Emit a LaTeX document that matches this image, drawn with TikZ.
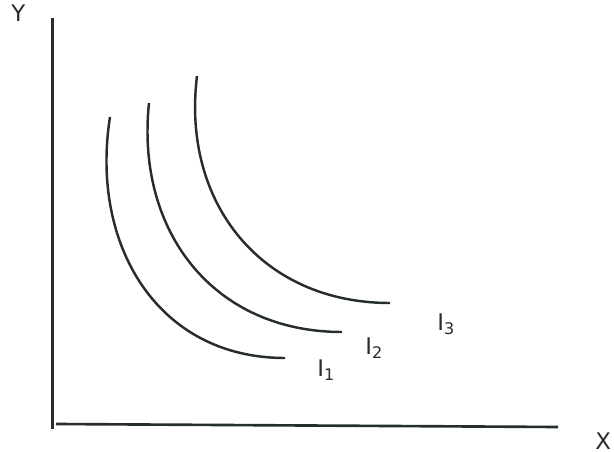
\documentclass[tikz,border=0pt]{standalone}
\usepackage{fontspec}
\setmainfont{DejaVu Sans}

\definecolor{ink}{RGB}{38,46,44}

\begin{document}
\begin{tikzpicture}[x=0.02cm,y=-0.02cm,
    axis/.style={ink,line width=1.5pt},
    curve/.style={ink,line width=1.4pt},
    lab/.style={text=ink,anchor=base west,inner sep=0pt,font=\fontsize{13}{15}\selectfont}]

\useasboundingbox (0,0) rectangle (614,452);

% Axes
\coordinate (Ytop) at (52.5,18);
\coordinate (Ybot) at (52.5,429);
\coordinate (Xbeg) at (56,424);
\coordinate (Xend) at (558,427);
\draw[axis] (Ytop) -- (Ybot);
\draw[axis] (Xbeg) -- (Xend);

\node[lab] (ylab) at (11,22) {Y};
\node[lab] (xlab) at (595,449) {X};

% Ends of the curves
\coordinate (T1) at (110,117);
\coordinate (B1) at (285,358);
\coordinate (T2) at (149,103);
\coordinate (B2) at (342,332);
\coordinate (T3) at (197,76);
\coordinate (B3) at (390,303);

% Indifference curves
\foreach \n/\a in {1/261,2/264,3/263}
{
    \draw[curve] (T\n) to[out=\a,in=180,looseness=1.1] (B\n);
}

% Labels
\node[lab] (I1) at (317,376) {I\textsubscript{1}};
\node[lab] (I2) at (365,354) {I\textsubscript{2}};
\node[lab] (I3) at (437,330) {I\textsubscript{3}};

\end{tikzpicture}
\end{document}
